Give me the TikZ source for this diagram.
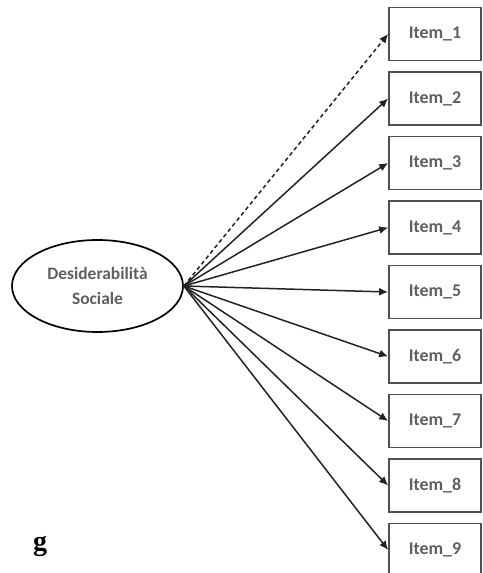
\documentclass[tikz,border=0pt]{standalone}
\usepackage{fontspec}
\setmainfont{Carlito}
\newfontfamily\gfont{Liberation Serif}
\usetikzlibrary{shapes.geometric,arrows.meta}
\definecolor{txtgray}{RGB}{95,95,95}
\definecolor{linegray}{RGB}{35,35,35}
\definecolor{boxgray}{RGB}{80,80,80}
\begin{document}
\begin{tikzpicture}[x=1bp,y=-1bp,
  itembox/.style={draw=boxgray,line width=1.7bp,minimum width=92bp,minimum height=53bp,inner sep=0pt,font=\fontsize{18}{20}\selectfont\bfseries,text=txtgray},
  latent/.style={ellipse,draw=black,line width=1.7bp,minimum width=171bp,minimum height=92bp,inner sep=0pt,font=\fontsize{17.5}{25}\selectfont\bfseries,text=txtgray,align=center},
  path/.style={draw=linegray,line width=1.5bp,-{Latex[length=9bp,width=8bp]}}]
\useasboundingbox (0,0) rectangle (483,573);
\node[latent] (L) at (97.5,286) {Desiderabilità\\Sociale};
\foreach \i in {1,...,9}{
  \node[itembox] (I\i) at (435,{34+(\i-1)*64.5}) {Item\_\i};
}
\draw[path,dash pattern=on 4bp off 3bp] (L.east) -- (I1.west);
\foreach \i in {2,...,9}{
  \draw[path] (L.east) -- (I\i.west);
}
\node[font=\gfont\fontsize{28}{30}\selectfont\bfseries] (g) at (40,546) {g};
\end{tikzpicture}
\end{document}
